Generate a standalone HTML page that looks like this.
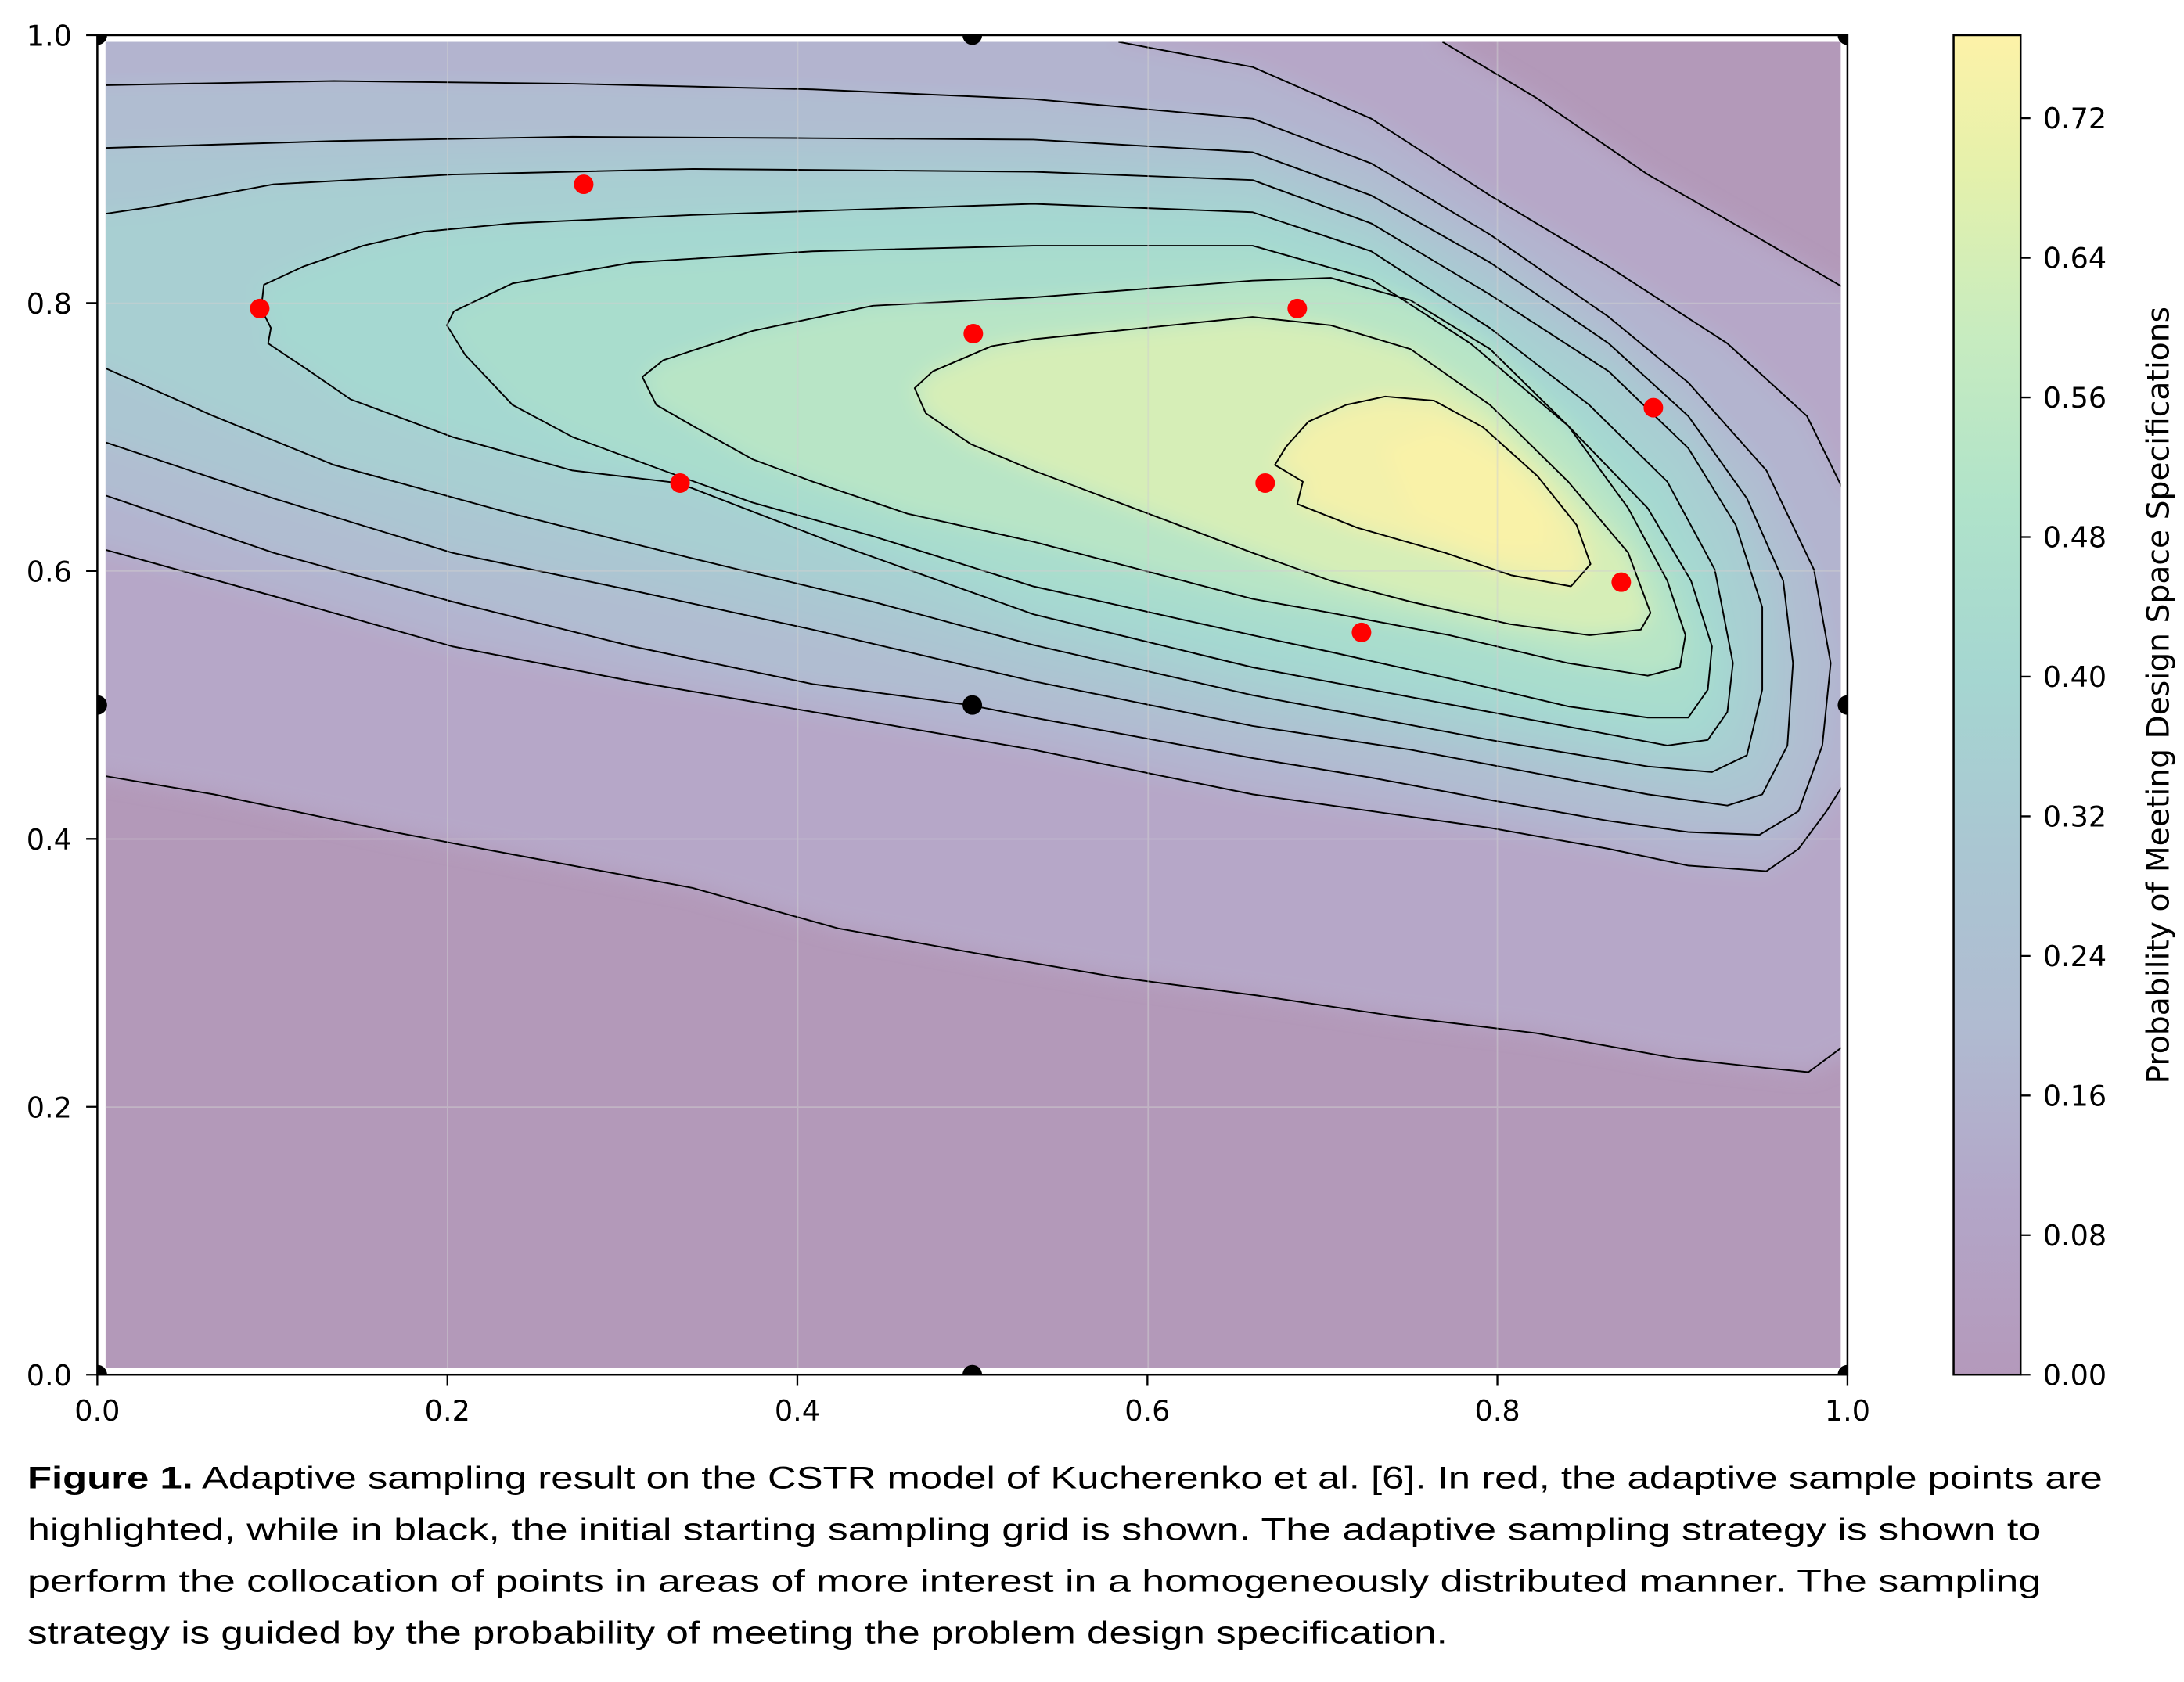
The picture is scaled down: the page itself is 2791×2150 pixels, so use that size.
<!DOCTYPE html>
<html><head><meta charset="utf-8"><style>html,body{margin:0;padding:0;background:#fff}svg{display:block}</style></head>
<body>
<svg xmlns="http://www.w3.org/2000/svg" width="2791" height="2150" viewBox="0 0 1564 1204.8">
<defs>
<clipPath id="pa"><rect x="75.6" y="30" width="1242.6" height="949.6"/></clipPath>
<clipPath id="ax"><rect x="69.7" y="25.2" width="1253.3" height="959.5"/></clipPath>
<filter id="bl" x="-5%" y="-5%" width="110%" height="110%"><feGaussianBlur stdDeviation="7"/></filter>
<linearGradient id="cb" x1="0" y1="1" x2="0" y2="0">
<stop offset="0" stop-color="#b499bb"/>
<stop offset="0.13" stop-color="#b3a6c8"/>
<stop offset="0.26" stop-color="#b0bbd1"/>
<stop offset="0.39" stop-color="#aac6d2"/>
<stop offset="0.52" stop-color="#a5d6d1"/>
<stop offset="0.65" stop-color="#b0e3ca"/>
<stop offset="0.78" stop-color="#c8ecbf"/>
<stop offset="0.9" stop-color="#e5f1ab"/>
<stop offset="1" stop-color="#fdf2a8"/>
</linearGradient>
</defs>
<rect width="1564" height="1204.8" fill="#fff"/>
<g clip-path="url(#pa)">
<rect x="70" y="25" width="1260" height="960" fill="#b399b9"/>
<g filter="url(#bl)">
<path fill="#b6a7c8" d="M40,0 L1033,0 L1033,30 L1100,70 L1180,125 L1250,165 L1340,217 L1340,748 L1295,768 L1265,765 L1200,758 L1100,740 L1000,728 L900,713 L800,700 L700,683 L600,665 L496,636 L367,612 L282,596 L153,569 L40,550 Z"/>
<path fill="#b3b4cf" d="M801,30 L897,48 L982,85 L1067,140 L1152,191 L1237,246 L1294,298 L1322,355 L1340,355 L1340,559 L1322,559 L1308,581 L1288,608 L1265,624 L1209,620 L1152,608 L1067,593 L982,581 L897,569 L740,537 L600,513 L453,488 L324,463 L196,427 L76,394 L40,390 L40,0 L801,0 Z"/>
<path fill="#b0bdd1" d="M40,61 L239,58 L410,60 L582,64 L740,71 L897,85 L982,117 L1067,168 L1152,227 L1209,274 L1265,337 L1299,408 L1311,475 L1305,534 L1288,581 L1260,598 L1209,596 L1152,588 L1067,573 L982,557 L897,543 L740,514 L694,505 L582,490 L453,463 L324,431 L196,396 L76,355 L40,350 Z"/>
<path fill="#abc6d2" d="M40,106 L239,101 L410,98 L582,99 L740,100 L897,109 L982,140 L1067,188 L1152,246 L1209,298 L1251,357 L1277,416 L1284,475 L1280,534 L1262,569 L1237,577 L1180,569 L1095,553 L1010,537 L897,520 L740,488 L582,451 L453,423 L324,396 L196,357 L76,317 L40,310 Z"/>
<path fill="#a8cfd2" d="M40,153 L110,148 L196,132 L324,125 L496,121 L740,123 L897,129 L982,160 L1067,211 L1152,266 L1209,321 L1243,376 L1262,435 L1262,494 L1251,541 L1226,553 L1180,549 L1067,530 L982,514 L897,498 L740,462 L625,431 L496,400 L367,368 L239,333 L153,298 L76,264 L40,255 Z"/>
<path fill="#a5d8d1" d="M189,204 L217,191 L260,176 L303,166 L367,160 L496,154 L740,146 L897,152 L982,180 L1067,235 L1138,290 L1194,345 L1228,408 L1241,475 L1237,510 L1223,530 L1194,534 L1152,526 L1067,510 L982,494 L897,478 L740,440 L600,390 L486,346 L410,337 L324,313 L251,286 L222,266 L204,254 L192,246 L194,235 L187,221 Z"/>
<path fill="#a9ddcd" d="M320,233 L325,223 L367,203 L453,188 L582,180 L740,176 L897,176 L982,200 L1053,246 L1123,305 L1180,364 L1211,416 L1226,463 L1223,494 L1209,514 L1180,514 L1123,506 L1038,486 L953,467 L897,455 L740,420 L625,384 L539,360 L475,337 L410,313 L367,290 L333,254 Z"/>
<path fill="#b8e5c6" d="M460,270 L475,258 L539,237 L625,219 L740,213 L897,201 L953,199 L1010,215 L1067,250 L1123,305 L1166,364 L1194,416 L1207,455 L1203,478 L1180,484 L1123,475 L1038,455 L953,439 L897,429 L740,388 L650,368 L582,345 L539,329 L496,305 L470,290 Z"/>
<path fill="#d6eeb7" d="M655,278 L668,266 L710,248 L740,243 L897,227 L953,233 L1010,250 L1067,290 L1123,345 L1166,396 L1182,439 L1175,451 L1138,455 L1081,447 L1010,431 L953,416 L897,396 L740,337 L695,318 L663,296 Z"/>
<path fill="#f3f1ab" d="M913,333 L921,320 L937,302 L964,290 L992,284 L1027,287 L1062,306 L1101,341 L1129,376 L1139,404 L1125,420 L1082,412 L1035,396 L972,378 L929,361 L933,345 Z"/>
<path fill="#faf2a8" opacity="0.8" d="M990,320 L1030,305 L1075,330 L1110,370 L1110,395 L1070,395 L1010,370 Z"/>
</g>
<g fill="none" stroke="#000" stroke-width="1.1" stroke-linejoin="round">
<path d="M76,556 L153,569 L282,596 L367,612 L496,636 L600,665 L700,683 L800,700 L900,713 L1000,728 L1100,740 L1200,758 L1265,765 L1295,768 L1322,748"/>
<path d="M1033,30 L1100,70 L1180,125 L1250,165 L1322,207"/>
<path d="M801,30 L897,48 L982,85 L1067,140 L1152,191 L1237,246 L1294,298 L1322,355 M1322,559 L1308,581 L1288,608 L1265,624 L1209,620 L1152,608 L1067,593 L982,581 L897,569 L740,537 L600,513 L453,488 L324,463 L196,427 L76,394"/>
<path d="M76,61 L239,58 L410,60 L582,64 L740,71 L897,85 L982,117 L1067,168 L1152,227 L1209,274 L1265,337 L1299,408 L1311,475 L1305,534 L1288,581 L1260,598 L1209,596 L1152,588 L1067,573 L982,557 L897,543 L740,514 L694,505 L582,490 L453,463 L324,431 L196,396 L76,355"/>
<path d="M76,106 L239,101 L410,98 L582,99 L740,100 L897,109 L982,140 L1067,188 L1152,246 L1209,298 L1251,357 L1277,416 L1284,475 L1280,534 L1262,569 L1237,577 L1180,569 L1095,553 L1010,537 L897,520 L740,488 L582,451 L453,423 L324,396 L196,357 L76,317"/>
<path d="M76,153 L110,148 L196,132 L324,125 L496,121 L740,123 L897,129 L982,160 L1067,211 L1152,266 L1209,321 L1243,376 L1262,435 L1262,494 L1251,541 L1226,553 L1180,549 L1067,530 L982,514 L897,498 L740,462 L625,431 L496,400 L367,368 L239,333 L153,298 L76,264"/>
<path d="M189,204 L217,191 L260,176 L303,166 L367,160 L496,154 L740,146 L897,152 L982,180 L1067,235 L1138,290 L1194,345 L1228,408 L1241,475 L1237,510 L1223,530 L1194,534 L1152,526 L1067,510 L982,494 L897,478 L740,440 L600,390 L486,346 L410,337 L324,313 L251,286 L222,266 L204,254 L192,246 L194,235 L187,221 Z"/>
<path d="M320,233 L325,223 L367,203 L453,188 L582,180 L740,176 L897,176 L982,200 L1053,246 L1123,305 L1180,364 L1211,416 L1226,463 L1223,494 L1209,514 L1180,514 L1123,506 L1038,486 L953,467 L897,455 L740,420 L625,384 L539,360 L475,337 L410,313 L367,290 L333,254 Z"/>
<path d="M460,270 L475,258 L539,237 L625,219 L740,213 L897,201 L953,199 L1010,215 L1067,250 L1123,305 L1166,364 L1194,416 L1207,455 L1203,478 L1180,484 L1123,475 L1038,455 L953,439 L897,429 L740,388 L650,368 L582,345 L539,329 L496,305 L470,290 Z"/>
<path d="M655,278 L668,266 L710,248 L740,243 L897,227 L953,233 L1010,250 L1067,290 L1123,345 L1166,396 L1182,439 L1175,451 L1138,455 L1081,447 L1010,431 L953,416 L897,396 L740,337 L695,318 L663,296 Z"/>
<path d="M913,333 L921,320 L937,302 L964,290 L992,284 L1027,287 L1062,306 L1101,341 L1129,376 L1139,404 L1125,420 L1082,412 L1035,396 L972,378 L929,361 L933,345 Z"/>
</g>
<g stroke="#d0d0d0" stroke-opacity="0.5" stroke-width="1">
<path d="M320.5,25V985M571.3,25V985M822.2,25V985M1072.3,25V985M69.7,793.0H1323M69.7,601.0H1323M69.7,409.0H1323M69.7,217.2H1323"/>
</g>
</g>
<rect x="69.7" y="25.2" width="1253.3" height="959.5" fill="none" stroke="#000" stroke-width="1.4"/>
<g fill="#000" clip-path="url(#ax)">
<circle cx="69.7" cy="984.7" r="7"/><circle cx="696.3" cy="984.7" r="7"/><circle cx="1323" cy="984.7" r="7"/>
<circle cx="69.7" cy="505" r="7"/><circle cx="696.3" cy="505" r="7"/><circle cx="1323" cy="505" r="7"/>
<circle cx="69.7" cy="25.2" r="7"/><circle cx="696.3" cy="25.2" r="7"/><circle cx="1323" cy="25.2" r="7"/>
</g>
<g fill="#ff0000">
<circle cx="186" cy="221" r="7"/><circle cx="418" cy="132" r="7"/><circle cx="487" cy="346" r="7"/>
<circle cx="697" cy="239" r="7"/><circle cx="929" cy="221" r="7"/><circle cx="906" cy="346" r="7"/>
<circle cx="975" cy="453" r="7"/><circle cx="1161" cy="417" r="7"/><circle cx="1184" cy="292" r="7"/>
</g>
<g stroke="#000" stroke-width="1.3">
<path d="M69.7,984.7v8M320.4,984.7v8M571,984.7v8M821.7,984.7v8M1072.3,984.7v8M1323,984.7v8"/>
<path d="M69.7,984.7h-8M69.7,792.8h-8M69.7,600.9h-8M69.7,409h-8M69.7,217.1h-8M69.7,25.2h-8"/>
</g>
<g font-family="DejaVu Sans, Liberation Sans, sans-serif" font-size="20.5" fill="#000">
<g text-anchor="middle">
<text x="69.7" y="1017.5">0.0</text><text x="320.4" y="1017.5">0.2</text><text x="571" y="1017.5">0.4</text>
<text x="821.7" y="1017.5">0.6</text><text x="1072.3" y="1017.5">0.8</text><text x="1323" y="1017.5">1.0</text>
</g>
<g text-anchor="end">
<text x="51.5" y="992.3">0.0</text><text x="51.5" y="800.4">0.2</text><text x="51.5" y="608.5">0.4</text>
<text x="51.5" y="416.6">0.6</text><text x="51.5" y="224.7">0.8</text><text x="51.5" y="32.8">1.0</text>
</g>
</g>
<rect x="1399" y="25.2" width="48" height="959.5" fill="url(#cb)" stroke="#000" stroke-width="1.4"/>
<g stroke="#000" stroke-width="1.3">
<path d="M1447,984.7h7M1447,884.7h7M1447,784.7h7M1447,684.7h7M1447,584.7h7M1447,484.7h7M1447,384.7h7M1447,284.7h7M1447,184.7h7M1447,84.7h7"/>
</g>
<g font-family="DejaVu Sans, Liberation Sans, sans-serif" font-size="20.5" fill="#000">
<text x="1463" y="992">0.00</text><text x="1463" y="892">0.08</text><text x="1463" y="792">0.16</text>
<text x="1463" y="692">0.24</text><text x="1463" y="592">0.32</text><text x="1463" y="492">0.40</text>
<text x="1463" y="392">0.48</text><text x="1463" y="292">0.56</text><text x="1463" y="192">0.64</text>
<text x="1463" y="92">0.72</text>
<text transform="translate(1553,498) rotate(-90)" text-anchor="middle" font-size="22">Probability of Meeting Design Space Specifications</text>
</g>
<g font-family="Liberation Sans, sans-serif" font-size="22.5" fill="#000">
<text x="19.6" y="1066" textLength="1486" lengthAdjust="spacingAndGlyphs"><tspan font-weight="bold">Figure 1.</tspan> Adaptive sampling result on the CSTR model of Kucherenko et al. [6]. In red, the adaptive sample points are</text>
<text x="19.6" y="1103" textLength="1442" lengthAdjust="spacingAndGlyphs">highlighted, while in black, the initial starting sampling grid is shown. The adaptive sampling strategy is shown to</text>
<text x="19.6" y="1140" textLength="1442" lengthAdjust="spacingAndGlyphs">perform the collocation of points in areas of more interest in a homogeneously distributed manner. The sampling</text>
<text x="19.6" y="1177" textLength="1017" lengthAdjust="spacingAndGlyphs">strategy is guided by the probability of meeting the problem design specification.</text>
</g>
</svg>
</body></html>
